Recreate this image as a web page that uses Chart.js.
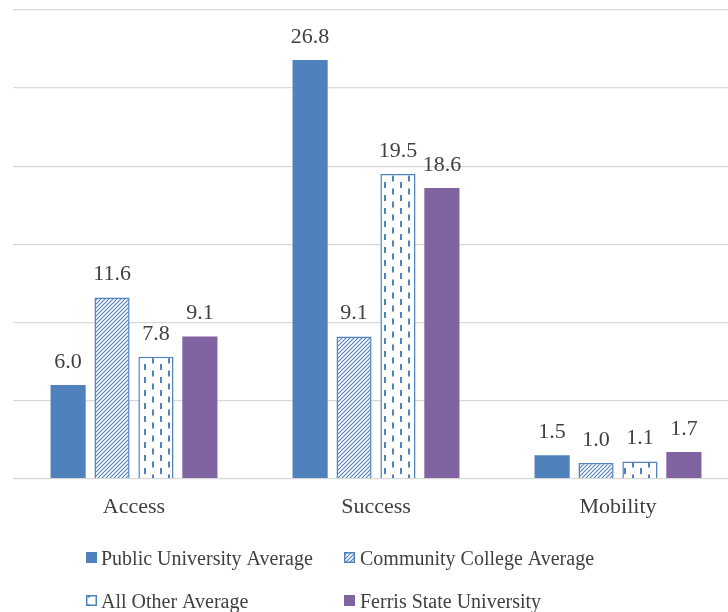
<!DOCTYPE html>
<html><head><meta charset="utf-8">
<script src="https://cdn.jsdelivr.net/npm/chart.js@4"></script>
<style>
html,body{margin:0;padding:0;background:#fff;overflow:hidden;width:728px;height:612px}
#wrap{position:absolute;left:0;top:0;width:739px;height:612px}
</style></head>
<body><div id="wrap"><canvas id="c" width="739" height="612"></canvas></div>
<script>
const categories = ['Access', 'Success', 'Mobility'];
const seriesNames = ['Public University Average', 'Community College Average', 'All Other Average', 'Ferris State University'];
const publicUniversity = [6.0, 26.8, 1.5];
const communityCollege = [11.6, 9.1, 1.0];
const allOther = [7.8, 19.5, 1.1];
const ferrisState = [9.1, 18.6, 1.7];
const yTicks = [0, 5, 10, 15, 20, 25, 30];

const BLUE = '#4F81BD', PURPLE = '#8064A2', TEXT = '#404040', GRID = '#D9D9D9';
const FONT = '"Liberation Serif", "Times New Roman", serif';

function makePattern(kind) {
  const t = document.createElement('canvas');
  const g = t.getContext('2d');
  if (kind === 'diag') {
    t.width = 4; t.height = 4;
    g.fillStyle = '#fff'; g.fillRect(0, 0, 4, 4);
    g.strokeStyle = BLUE; g.lineWidth = 1.1;
    g.beginPath();
    g.moveTo(-1, 5); g.lineTo(5, -1);
    g.moveTo(-1, 1); g.lineTo(1, -1);
    g.moveTo(3, 5); g.lineTo(5, 3);
    g.stroke();
  } else {
    t.width = 16; t.height = 13;
    g.fillStyle = '#fff'; g.fillRect(0, 0, 16, 13);
    g.fillStyle = BLUE;
    g.fillRect(0, 0, 2, 6);
    g.fillRect(8, 6.5, 2, 6);
  }
  return g.createPattern(t, 'repeat');
}
const diagPattern = makePattern('diag');
const dashPattern = makePattern('dash');

const valueLabels = {
  id: 'valueLabels',
  afterDatasetsDraw(chart) {
    const ctx = chart.ctx;
    ctx.save();
    ctx.font = '22px ' + FONT;
    ctx.fillStyle = TEXT;
    ctx.textAlign = 'center';
    ctx.textBaseline = 'alphabetic';
    chart.data.datasets.forEach((ds, i) => {
      chart.getDatasetMeta(i).data.forEach((el, j) => {
        ctx.fillText(ds.data[j].toFixed(1), el.x, el.y - 17);
      });
    });
    ctx.restore();
  }
};

const gridLegend = {
  id: 'gridLegend',
  afterDraw(chart) {
    const ctx = chart.ctx;
    const pos = [[86, 552, 101, 565], [344, 552, 360, 565], [86, 595, 101, 608], [344, 595, 360, 608]];
    ctx.save();
    ctx.font = '20px ' + FONT;
    ctx.textBaseline = 'alphabetic';
    ctx.textAlign = 'left';
    chart.data.datasets.forEach((ds, i) => {
      const [bx, by, tx, ty] = pos[i];
      ctx.fillStyle = ds.backgroundColor;
      ctx.fillRect(bx, by, 11, 11);
      if (ds.borderWidth) {
        ctx.strokeStyle = ds.borderColor;
        ctx.lineWidth = 1.5;
        ctx.strokeRect(bx + 0.75, by + 0.75, 9.5, 9.5);
      }
      ctx.fillStyle = TEXT;
      ctx.fillText(ds.label, tx, ty);
    });
    ctx.restore();
  }
};

new Chart(document.getElementById('c'), {
  type: 'bar',
  data: {
    labels: categories,
    datasets: [
      { label: seriesNames[0], data: publicUniversity, backgroundColor: BLUE, borderWidth: 0 },
      { label: seriesNames[1], data: communityCollege, backgroundColor: diagPattern, borderColor: BLUE, borderWidth: 1.5 },
      { label: seriesNames[2], data: allOther, backgroundColor: dashPattern, borderColor: BLUE, borderWidth: 1.5 },
      { label: seriesNames[3], data: ferrisState, backgroundColor: PURPLE, borderWidth: 0 }
    ]
  },
  options: {
    responsive: false,
    animation: false,
    devicePixelRatio: 1,
    layout: { padding: { left: 13, right: 0, top: 10, bottom: 77 } },
    datasets: { bar: { categoryPercentage: 0.726, barPercentage: 0.8 } },
    plugins: { legend: { display: false }, tooltip: { enabled: false } },
    scales: {
      x: {
        grid: { display: false, drawTicks: false },
        border: { display: false },
        ticks: { color: TEXT, font: { family: FONT, size: 22 }, padding: 15 }
      },
      y: {
        min: yTicks[0], max: yTicks[yTicks.length - 1],
        afterBuildTicks(scale) { scale.ticks = yTicks.map(v => ({ value: v })); },
        grid: { color: GRID, lineWidth: 1.3, drawTicks: false },
        border: { display: false },
        ticks: { display: false }
      }
    }
  },
  plugins: [valueLabels, gridLegend]
});
</script>
</body></html>
